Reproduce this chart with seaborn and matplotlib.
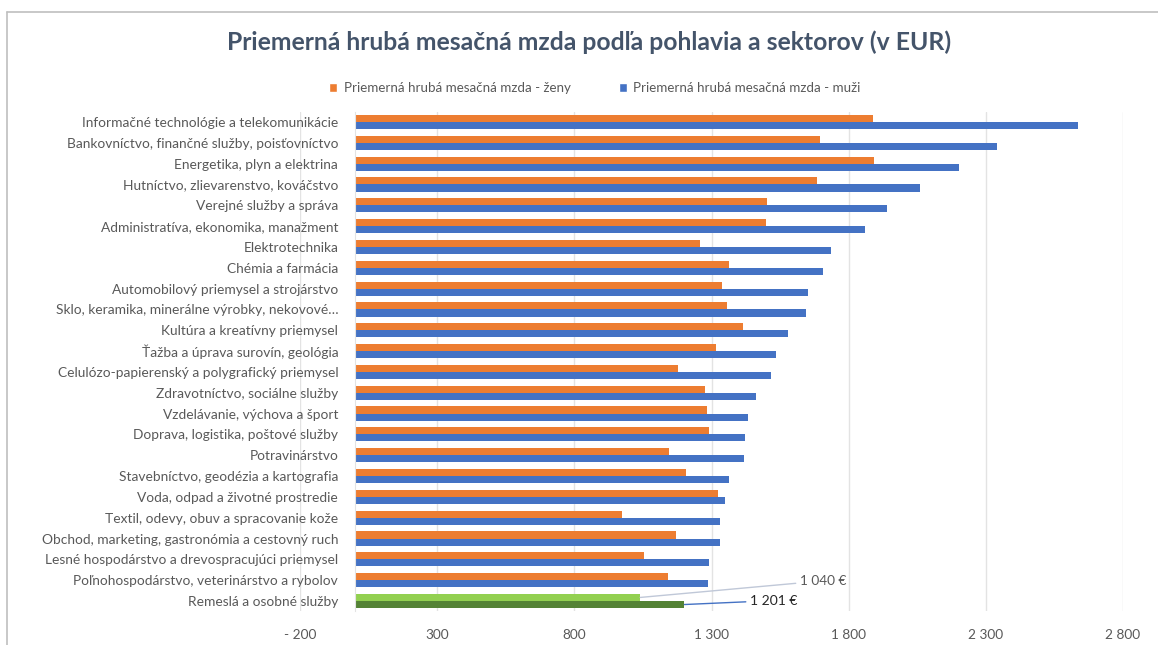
import matplotlib
matplotlib.use("Agg")
import matplotlib.pyplot as plt
from matplotlib.lines import Line2D
from matplotlib.patches import Patch
import seaborn as sns
import pandas as pd

categories = [
    "Informačné technológie a telekomunikácie",
    "Bankovníctvo, finančné služby, poisťovníctvo",
    "Energetika, plyn a elektrina",
    "Hutníctvo, zlievarenstvo, kováčstvo",
    "Verejné služby a správa",
    "Administratíva, ekonomika, manažment",
    "Elektrotechnika",
    "Chémia a farmácia",
    "Automobilový priemysel a strojárstvo",
    "Sklo, keramika, minerálne výrobky, nekovové…",
    "Kultúra a kreatívny priemysel",
    "Ťažba a úprava surovín, geológia",
    "Celulózo-papierenský a polygrafický priemysel",
    "Zdravotníctvo, sociálne služby",
    "Vzdelávanie, výchova a šport",
    "Doprava, logistika, poštové služby",
    "Potravinárstvo",
    "Stavebníctvo, geodézia a kartografia",
    "Voda, odpad a životné prostredie",
    "Textil, odevy, obuv a spracovanie kože",
    "Obchod, marketing, gastronómia a cestovný ruch",
    "Lesné hospodárstvo a drevospracujúci priemysel",
    "Poľnohospodárstvo, veterinárstvo a rybolov",
    "Remeslá a osobné služby",
]
zeny = [1889, 1696, 1894, 1684, 1502, 1500, 1257, 1365, 1337, 1358, 1416, 1315,
        1179, 1277, 1285, 1290, 1144, 1206, 1322, 972, 1170, 1053, 1140, 1040]
muzi = [2636, 2341, 2202, 2060, 1939, 1859, 1734, 1708, 1653, 1646, 1578, 1535,
        1516, 1462, 1432, 1423, 1418, 1363, 1348, 1331, 1330, 1292, 1288, 1201]
series_names = ["Priemerná hrubá mesačná mzda - ženy", "Priemerná hrubá mesačná mzda - muži"]
x_ticks = [-200, 300, 800, 1300, 1800, 2300, 2800]
x_tick_labels = ["- 200", "300", "800", "1 300", "1 800", "2 300", "2 800"]
annot_labels = ["1 040 €", "1 201 €"]

ORANGE = "#ed7d31"
BLUE = "#4472c4"
LGREEN = "#92d050"
DGREEN = "#548235"
TXT = "#595959"

df = pd.DataFrame({
    "kategoria": categories * 2,
    "mzda": zeny + muzi,
    "seria": [series_names[0]] * len(categories) + [series_names[1]] * len(categories),
})

sns.set_theme(style="white")
plt.rcParams["font.family"] = ["Lato", "DejaVu Sans"]

fig = plt.figure(figsize=(11.58, 6.45), dpi=100)
ax = fig.add_axes([300 / 1158, 1 - 611.4 / 645, (1123 - 300) / 1158, (611.4 - 111.6) / 645])

bw = 0.68
sns.barplot(data=df, y="kategoria", x="mzda", hue="seria", order=categories,
            hue_order=series_names, palette=[ORANGE, BLUE], orient="h",
            width=bw, ax=ax, legend=False, saturation=1, linewidth=0)

# recolor the last category (green)
n = len(categories)
ax.containers[0][n - 1].set_facecolor(LGREEN)
ax.containers[1][n - 1].set_facecolor(DGREEN)

ax.set_xlim(-200, 2800)
ax.set_ylim(n - 0.5, -0.5)
ax.set_xticks(x_ticks)
ax.set_xticklabels(x_tick_labels)
ax.set_xlabel("")
ax.set_ylabel("")
ax.grid(axis="x", color="#e3e3e3", linewidth=1)
ax.grid(axis="y", visible=False)
ax.set_axisbelow(True)
for s in ["top", "right", "bottom"]:
    ax.spines[s].set_visible(False)
ax.spines["left"].set_position(("data", 0))
ax.spines["left"].set_color("#e3e3e3")
ax.spines["left"].set_linewidth(0.8)
ax.tick_params(axis="y", length=0, pad=12, labelsize=9.9, labelcolor=TXT)
ax.tick_params(axis="x", length=0, pad=13, labelsize=9.8, labelcolor=TXT)

# annotations for the green bars
off = bw / 4
ax.annotate(annot_labels[0], xy=(zeny[-1], n - 1 - off), xytext=(1624, n - 2 + 0.03),
            fontsize=9.8, color=TXT, va="center", ha="left",
            arrowprops=dict(arrowstyle="-", color="#c0c8d8", lw=1, shrinkA=1, shrinkB=0))
ax.annotate(annot_labels[1], xy=(muzi[-1], n - 1 + off), xytext=(1442, n - 1 - 0.02),
            fontsize=10, color="#262626", va="center", ha="left",
            arrowprops=dict(arrowstyle="-", color=BLUE, lw=1, shrinkA=1, shrinkB=0))

# title
fig.text(589.5 / 1158, 1 - 42 / 645, "Priemerná hrubá mesačná mzda podľa pohlavia a sektorov (v EUR)",
         ha="center", va="center", fontsize=17.8, fontweight="bold", color="#44546a")

# legend
handles = [Patch(facecolor=ORANGE), Patch(facecolor=BLUE)]
fig.legend(handles, series_names, loc="center", bbox_to_anchor=(595 / 1158, 1 - 88 / 645),
           ncol=2, frameon=False, fontsize=9.6, labelcolor=TXT, handlelength=0.6,
           handleheight=0.6, handletextpad=0.5, columnspacing=3.6)

# chart border (top and left lines)
fig.add_artist(Line2D([7 / 1158, 1.0], [1 - 12 / 645, 1 - 12 / 645], transform=fig.transFigure,
                      color="#bfbfbf", lw=1.2))
fig.add_artist(Line2D([7 / 1158, 7 / 1158], [0, 1 - 12 / 645], transform=fig.transFigure,
                      color="#bfbfbf", lw=1.2))

fig.savefig("out.png", dpi=100)
